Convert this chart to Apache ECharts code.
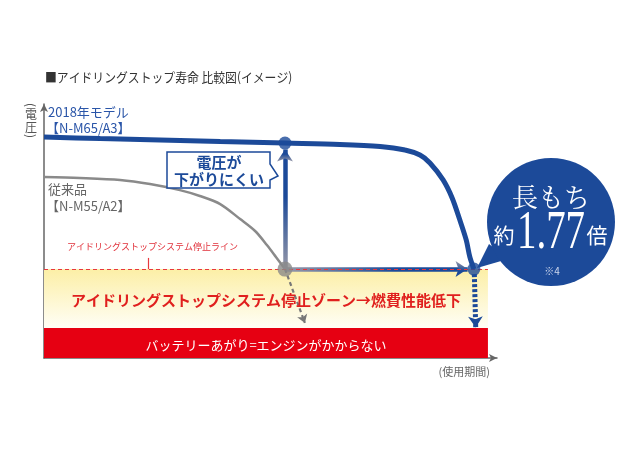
<!DOCTYPE html>
<html><head><meta charset="utf-8">
<script src="https://cdn.jsdelivr.net/npm/echarts@6/dist/echarts.min.js"></script>
<style>html,body{margin:0;padding:0;background:#fff}#c{width:640px;height:453px}</style>
</head><body><div id="c"></div>
<script>
// ---- data (usage period 0..100, voltage 0..100) ----
const newModelX = [0, 12.4, 25.6, 38.9, 53.2, 65.3, 74.2, 79.7, 83.0, 85.2, 88.1, 90.1, 91.8, 93.2, 94.0, 94.9];
const newModelY = [87.0, 86.4, 85.8, 85.2, 84.6, 84.1, 83.3, 81.9, 79.9, 76.8, 70.1, 63.0, 54.3, 46.5, 39.8, 35.0];
const oldModelX = [0, 7.9, 16.8, 23.4, 30.0, 34.4, 38.9, 43.3, 46.6, 49.2, 51.2, 53.2];
const oldModelY = [71.3, 70.9, 70.1, 68.5, 66.1, 63.8, 60.6, 54.7, 50.0, 44.5, 39.8, 35.0];
const oldLife = 53.2;          // old model reaches stop line
const newLife = 94.9;          // new model reaches stop line (~1.77x)
const stopLine = 35.0;         // idling-stop system stop line
const deadLine = 11.8;         // battery dead level
const zoneEnd = 98;
const newAtOldLife = 84.6;
const stopLabelTick = [23.0, 39.4];
const oldDropEnd = [57.6, 13.8];

const BLUE = '#1c4a99', GREY = '#8a8a8a', RED = '#e60012';
const JP = '"Noto Sans CJK JP", "Noto Sans", sans-serif';

const chart = echarts.init(document.getElementById('c'));
const zip = (a, b) => a.map((v, i) => [v, b[i]]);
function T(x, y, text, font, fill, extra) {
  const ex = Object.assign({}, extra || {});
  const st = ex.style || {};
  delete ex.style;
  return Object.assign({ type: 'text', z: 20, x: x, y: y,
    style: Object.assign({ text: text, font: font, fill: fill, align: 'center', verticalAlign: 'middle' }, st) }, ex);
}

const graphics = [
  T(45, 77, '■アイドリングストップ寿命 比較図(イメージ)', '13px ' + JP, '#333', { scaleX: 0.91, style: { align: 'left' } }),
  T(31, 105, '(', '12px ' + JP, '#555', { rotation: -Math.PI / 2 }),
  T(31, 114, '電', '12px ' + JP, '#555'),
  T(31, 127, '圧', '12px ' + JP, '#555'),
  T(31, 136, ')', '12px ' + JP, '#555', { rotation: -Math.PI / 2 }),
  T(48, 112, '2018年モデル', '13px ' + JP, '#2a55a8', { style: { align: 'left' } }),
  T(46, 128, '【N-M65/A3】', '13px ' + JP, '#2a55a8', { style: { align: 'left' } }),
  T(48, 189, '従来品', '13px ' + JP, '#666', { style: { align: 'left' } }),
  T(46, 206, '【N-M55/A2】', '13px ' + JP, '#666', { style: { align: 'left' } }),
  T(67, 247, 'アイドリングストップシステム停止ライン', '9px ' + JP, '#e0303a', { style: { align: 'left' } }),
  T(266, 300, 'アイドリングストップシステム停止ゾーン→燃費性能低下', 'bold 15px ' + JP, '#e0201e'),
  T(266, 345, 'バッテリーあがり=エンジンがかからない', '13px ' + JP, '#fff'),
  T(490, 372, '(使用期間)', '11px ' + JP, '#666', { style: { align: 'right' } }),
  // callout
  { type: 'polygon', z: 18, shape: { points: [[167, 152], [270, 152], [270, 164], [278, 176], [270, 180], [270, 188], [167, 188]] },
    style: { fill: '#fff', stroke: BLUE, lineWidth: 1.5 } },
  T(219, 162, '電圧が', 'bold 15px ' + JP, BLUE),
  T(219, 179, '下がりにくい', 'bold 15px ' + JP, BLUE),
  // badge
  { type: 'polygon', z: 18, shape: { points: [[489, 244], [477, 268], [508, 259]] }, style: { fill: BLUE } },
  { type: 'circle', z: 18, shape: { cx: 551, cy: 222, r: 64 }, style: { fill: BLUE } },
  T(551, 197, '長もち', '26px "Noto Serif CJK JP", ' + JP, '#fff'),
  T(504, 235, '約', '21px ' + JP, '#fff'),
  T(551, 234, '1.77', '54px "Liberation Serif", "DejaVu Serif", serif', '#fff', { scaleX: 0.72 }),
  T(597, 235, '倍', '21px ' + JP, '#fff'),
  T(552, 271, '※4', '10px ' + JP, '#cfd8ee')
];

chart.setOption({
  animation: false,
  grid: { left: 44, top: 104, width: 453, height: 254 },
  xAxis: { type: 'value', min: 0, max: 100, axisLabel: { show: false }, axisTick: { show: false }, splitLine: { show: false },
    axisLine: { lineStyle: { color: '#666', width: 1.5 }, symbol: ['none', 'arrow'], symbolSize: [6, 8] } },
  yAxis: { type: 'value', min: 0, max: 100, axisLabel: { show: false }, axisTick: { show: false }, splitLine: { show: false },
    axisLine: { lineStyle: { color: '#666', width: 1.5 }, symbol: ['none', 'arrow'], symbolSize: [6, 8] } },
  series: [
    { type: 'line', data: [], z: 1, silent: true,
      markArea: { silent: true, label: { show: false }, data: [
        [{ coord: [0, stopLine], itemStyle: { color: new echarts.graphic.LinearGradient(0, 0, 0, 1, [
            { offset: 0, color: '#fcefa6' }, { offset: 1, color: '#fffef6' }]) } }, { coord: [zoneEnd, deadLine] }],
        [{ coord: [0, deadLine], itemStyle: { color: RED } }, { coord: [zoneEnd, 0] }]
      ] },
      markLine: { silent: true, symbol: 'none', label: { show: false }, data: [
        [{ coord: [0, stopLine], lineStyle: { color: '#e8383d', type: [4, 3], width: 1.2 } }, { coord: [zoneEnd, stopLine] }],
        [{ coord: [stopLabelTick[0], stopLine], lineStyle: { color: '#e8383d', type: 'solid', width: 1.2 } }, { coord: stopLabelTick }]
      ] } },
    { type: 'line', data: zip(oldModelX, oldModelY), smooth: 0.3, showSymbol: false, z: 3,
      lineStyle: { color: GREY, width: 2.5 } },
    { type: 'line', data: zip(newModelX, newModelY), smooth: 0.3, showSymbol: false, z: 3,
      lineStyle: { color: BLUE, width: 5 } },
    { type: 'lines', coordinateSystem: 'cartesian2d', z: 4, symbol: ['none', 'arrow'], symbolSize: 12,
      data: [{ coords: [[oldLife, stopLine], [oldLife, newAtOldLife - 2.5]],
        lineStyle: { width: 4.5, opacity: 1, color: new echarts.graphic.LinearGradient(0, 1, 0, 0, [{ offset: 0, color: '#9a9aa8' }, { offset: 0.6, color: BLUE }, { offset: 1, color: BLUE }]) } },
        { coords: [[oldLife, stopLine], [newLife - 1.4, stopLine]],
        lineStyle: { width: 4.5, opacity: 1, color: new echarts.graphic.LinearGradient(0, 0, 1, 0, [{ offset: 0, color: '#9a9aa8' }, { offset: 0.6, color: BLUE }, { offset: 1, color: BLUE }]) } }] },
    { type: 'lines', coordinateSystem: 'cartesian2d', z: 4, symbol: ['none', 'arrow'], symbolSize: 11,
      data: [{ coords: [[newLife + 0.1, stopLine - 2], [newLife + 0.4, deadLine + 0.2]],
        lineStyle: { width: 5, opacity: 1, color: BLUE, type: [3, 2] } }] },
    { type: 'lines', coordinateSystem: 'cartesian2d', z: 4, symbol: ['none', 'arrow'], symbolSize: 8,
      data: [{ coords: [[oldLife, stopLine], oldDropEnd],
        lineStyle: { width: 2.2, opacity: 1, color: '#777', type: [4, 3] } }] },
    { type: 'scatter', z: 6, symbolSize: 13, itemStyle: { color: BLUE }, data: [[oldLife, newAtOldLife], [newLife, stopLine]] },
    { type: 'scatter', z: 6, symbolSize: 15, itemStyle: { color: GREY }, data: [[oldLife, stopLine]] }
  ],
  graphic: graphics
});
</script></body></html>
